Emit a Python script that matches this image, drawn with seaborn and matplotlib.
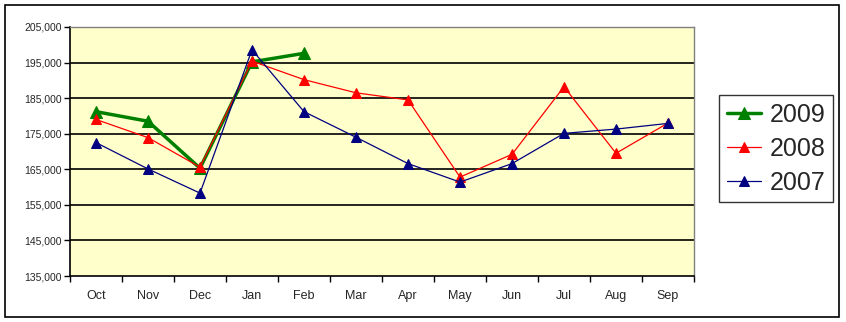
import matplotlib
matplotlib.use("Agg")
import matplotlib.pyplot as plt
import seaborn as sns
import pandas as pd
import numpy as np
from matplotlib.ticker import FuncFormatter, FixedLocator
from matplotlib.patches import Rectangle

months = ["Oct", "Nov", "Dec", "Jan", "Feb", "Mar", "Apr", "May", "Jun", "Jul", "Aug", "Sep"]
series_names = ["2009", "2008", "2007"]
v2009 = [181200, 178500, 165300, 195200, 197600]
v2008 = [179000, 173900, 165600, 195400, 190200, 186500, 184500, 162800, 169200, 188200, 169500, 178000]
v2007 = [172500, 165100, 158300, 198600, 181200, 174000, 166600, 161400, 166600, 175100, 176300, 177900]
y_ticks = [135000, 145000, 155000, 165000, 175000, 185000, 195000, 205000]

sns.set_theme(style="white")
plt.rcParams['font.family'] = ['Liberation Sans', 'DejaVu Sans']

fig = plt.figure(figsize=(8.46, 3.22), dpi=100)
ax = fig.add_axes([70/846, 1-276/322, 624/846, 249/322])
ax.set_facecolor("#FFFFCC")

# outer border
fig.patches.append(Rectangle((5/846, 5/322), 834/846, 312/322, transform=fig.transFigure,
                             fill=False, edgecolor="black", linewidth=1.2))

styles = {
    "2009": dict(color="#008000", lw=2.5, ms=8),
    "2008": dict(color="#FF0000", lw=0.9, ms=6.5),
    "2007": dict(color="#000080", lw=0.9, ms=6.5),
}
data = {"2009": v2009, "2008": v2008, "2007": v2007}

for name in series_names:
    vals = data[name]
    df = pd.DataFrame({"x": np.arange(len(vals)), "y": vals})
    st = styles[name]
    sns.lineplot(data=df, x="x", y="y", ax=ax, color=st["color"], linewidth=st["lw"],
                 marker="^", markersize=st["ms"], markeredgecolor=st["color"],
                 markerfacecolor=st["color"], label=name, zorder=3)

ax.set_xlim(-0.5, len(months) - 0.5)
ax.set_ylim(y_ticks[0], y_ticks[-1])
ax.set_yticks(y_ticks)
ax.yaxis.set_major_formatter(FuncFormatter(lambda v, p: f"{int(v):,}"))
ax.set_xticks(range(len(months)))
ax.set_xticklabels(months)
ax.xaxis.set_minor_locator(FixedLocator(np.arange(-0.5, len(months), 1.0)))
ax.tick_params(axis="x", which="major", length=0, pad=10, labelsize=9)
ax.tick_params(axis="x", which="minor", length=4, width=1, color="black", direction="out", bottom=True)
ax.tick_params(axis="y", which="major", length=4, width=1, color="black", direction="out", left=True,
               labelsize=7.5, pad=2)
ax.set_xlabel("")
ax.set_ylabel("")

for yv in y_ticks[1:-1]:
    ax.axhline(yv, color="black", linewidth=1.2, zorder=1)

for side in ["left", "bottom"]:
    ax.spines[side].set_color("black")
    ax.spines[side].set_linewidth(1.2)
for side in ["top", "right"]:
    ax.spines[side].set_color("#808080")
    ax.spines[side].set_linewidth(1.0)

handles, labels = ax.get_legend_handles_labels()
leg = fig.legend(handles, labels, loc="center", bbox_to_anchor=(776/846, 1-149/322),
                 frameon=True, fancybox=False, fontsize=18, handlelength=1.35,
                 borderpad=0.3, labelspacing=0.4, handletextpad=0.35, borderaxespad=0)
leg.get_frame().set_edgecolor("black")
leg.get_frame().set_linewidth(1.0)
if ax.get_legend() is not None:
    ax.get_legend().remove()

fig.savefig("out.png", dpi=100)
